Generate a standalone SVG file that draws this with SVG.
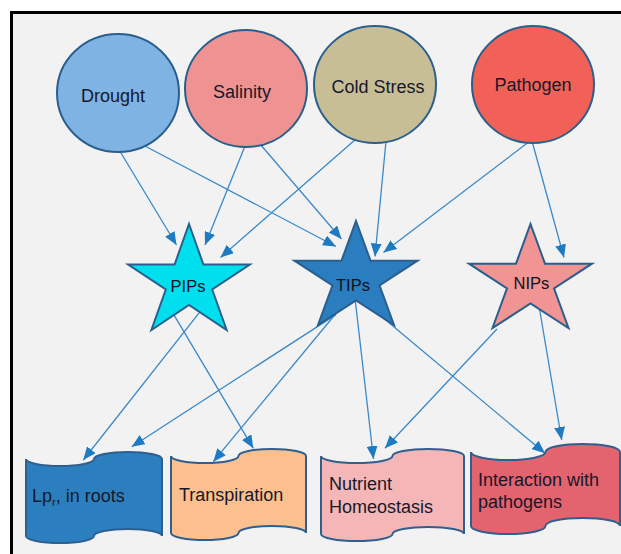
<svg xmlns="http://www.w3.org/2000/svg" width="621" height="554" viewBox="0 0 621 554">
<defs>
<style>
.lbl{font-family:"Liberation Sans",Arial,sans-serif;font-size:18px;fill:#16182a}
.slbl{font-family:"Liberation Sans",Arial,sans-serif;font-size:16.5px;fill:#10121f}
.circ{stroke:#2A5F8D;stroke-width:2}
.star{stroke:#2A5F8D;stroke-width:2;stroke-linejoin:miter}
.box{stroke:#2F5F8E;stroke-width:2}
.conn line{stroke:#3B89C9;stroke-width:1.3;fill:none;marker-end:url(#ah)}
</style>
<marker id="ah" markerUnits="userSpaceOnUse" viewBox="0 0 13 11" refX="13" refY="5.5" markerWidth="13" markerHeight="11" orient="auto">
<path d="M0,0 L13,5.5 L0,11 Z" fill="#1E7BC2"/>
</marker>
</defs>
<rect x="0" y="0" width="621" height="554" fill="#ffffff"/>
<rect x="11.5" y="12.5" width="620" height="560" fill="#F2F2F2" stroke="#000000" stroke-width="3"/>

<g id="connectors" class="conn">
<line x1="118" y1="148" x2="176.5" y2="245"/>
<line x1="143" y1="145" x2="336" y2="246.5"/>
<line x1="245" y1="146" x2="205" y2="245"/>
<line x1="260" y1="144" x2="341.5" y2="239"/>
<line x1="356" y1="139" x2="220.5" y2="257.5"/>
<line x1="386" y1="141" x2="375" y2="256.5"/>
<line x1="530" y1="141" x2="383.5" y2="252.5"/>
<line x1="532" y1="141" x2="564" y2="257.5"/>
<line x1="201.7" y1="309.6" x2="83.3" y2="460"/>
<line x1="171.1" y1="310.1" x2="253.3" y2="448.3"/>
<line x1="336" y1="314.6" x2="131.7" y2="446.7"/>
<line x1="338" y1="311" x2="213.3" y2="461.7"/>
<line x1="355" y1="298" x2="373.5" y2="459"/>
<line x1="380" y1="315.2" x2="545" y2="453.3"/>
<line x1="497" y1="329" x2="385" y2="448.3"/>
<line x1="538" y1="300" x2="561.7" y2="440"/>
</g>

<g id="drought">
<ellipse class="circ" cx="118" cy="93" rx="61" ry="59" fill="#7EB3E3"/>
<text class="lbl" x="113" y="101.5" text-anchor="middle">Drought</text>
</g>
<g id="salinity">
<ellipse class="circ" cx="246" cy="88.5" rx="61" ry="58.5" fill="#EE9292"/>
<text class="lbl" x="242" y="97.5" text-anchor="middle">Salinity</text>
</g>
<g id="cold-stress">
<ellipse class="circ" cx="375" cy="84.5" rx="61" ry="58.5" fill="#C8BE96"/>
<text class="lbl" x="378" y="92.5" text-anchor="middle">Cold Stress</text>
</g>
<g id="pathogen">
<ellipse class="circ" cx="533" cy="84.5" rx="61" ry="58.5" fill="#F26157"/>
<text class="lbl" x="533" y="91" text-anchor="middle">Pathogen</text>
</g>

<g id="pips">
<polygon class="star" fill="#00DFEE" points="189,224 203.4,264.5 249.9,264.5 212.2,289.5 226.6,330 189,305 151.4,330 165.8,289.5 128.1,264.5 174.6,264.5"/>
<text class="slbl" x="188" y="291.5" text-anchor="middle">PIPs</text>
</g>
<g id="tips">
<polygon class="star" fill="#2A7DBE" points="356,221 370.5,260.7 417.5,260.7 379.5,285.3 394,325 356,300.5 318,325 332.5,285.3 294.5,260.7 341.5,260.7"/>
<text class="slbl" x="353" y="290.5" text-anchor="middle">TIPs</text>
</g>
<g id="nips">
<polygon class="star" fill="#F09494" points="530.5,224 545,263.7 592,263.7 554,288.3 568.5,328 530.5,303.5 492.5,328 507,288.3 469,263.7 516,263.7"/>
<text class="slbl" x="531.5" y="288.5" text-anchor="middle">NIPs</text>
</g>

<g id="lp-roots">
<path class="box" fill="#2C7FBF" d="M26,459 A34,7 0 0 0 94,459 A34,7 0 0 1 162,459 L162,536 A34,7 0 0 0 94,536 A34,7 0 0 1 26,536 Z"/>
<text class="lbl" x="32" y="502">Lp<tspan font-size="11" dy="4">r</tspan><tspan dy="-4">, in roots</tspan></text>
</g>
<g id="transpiration">
<path class="box" fill="#FCC08E" d="M171,456 A33.75,7 0 0 0 238.5,456 A33.75,7 0 0 1 306,456 L306,533 A33.75,7 0 0 0 238.5,533 A33.75,7 0 0 1 171,533 Z"/>
<text class="lbl" x="179" y="501">Transpiration</text>
</g>
<g id="nutrient-homeostasis">
<path class="box" fill="#F4B6B6" d="M321,456 A35.75,7 0 0 0 392.5,456 A35.75,7 0 0 1 464,456 L464,534 A35.75,7 0 0 0 392.5,534 A35.75,7 0 0 1 321,534 Z"/>
<text class="lbl" x="329" y="489.5">Nutrient</text>
<text class="lbl" x="329" y="512.5">Homeostasis</text>
</g>
<g id="interaction-pathogens">
<path class="box" fill="#E3636F" d="M471,452 A37.25,8 0 0 0 545.5,452 A37.25,8 0 0 1 620,452 L620,526 A37.25,8 0 0 0 545.5,526 A37.25,8 0 0 1 471,526 Z"/>
<text class="lbl" x="478" y="486">Interaction with</text>
<text class="lbl" x="478" y="507.5">pathogens</text>
</g>
</svg>
